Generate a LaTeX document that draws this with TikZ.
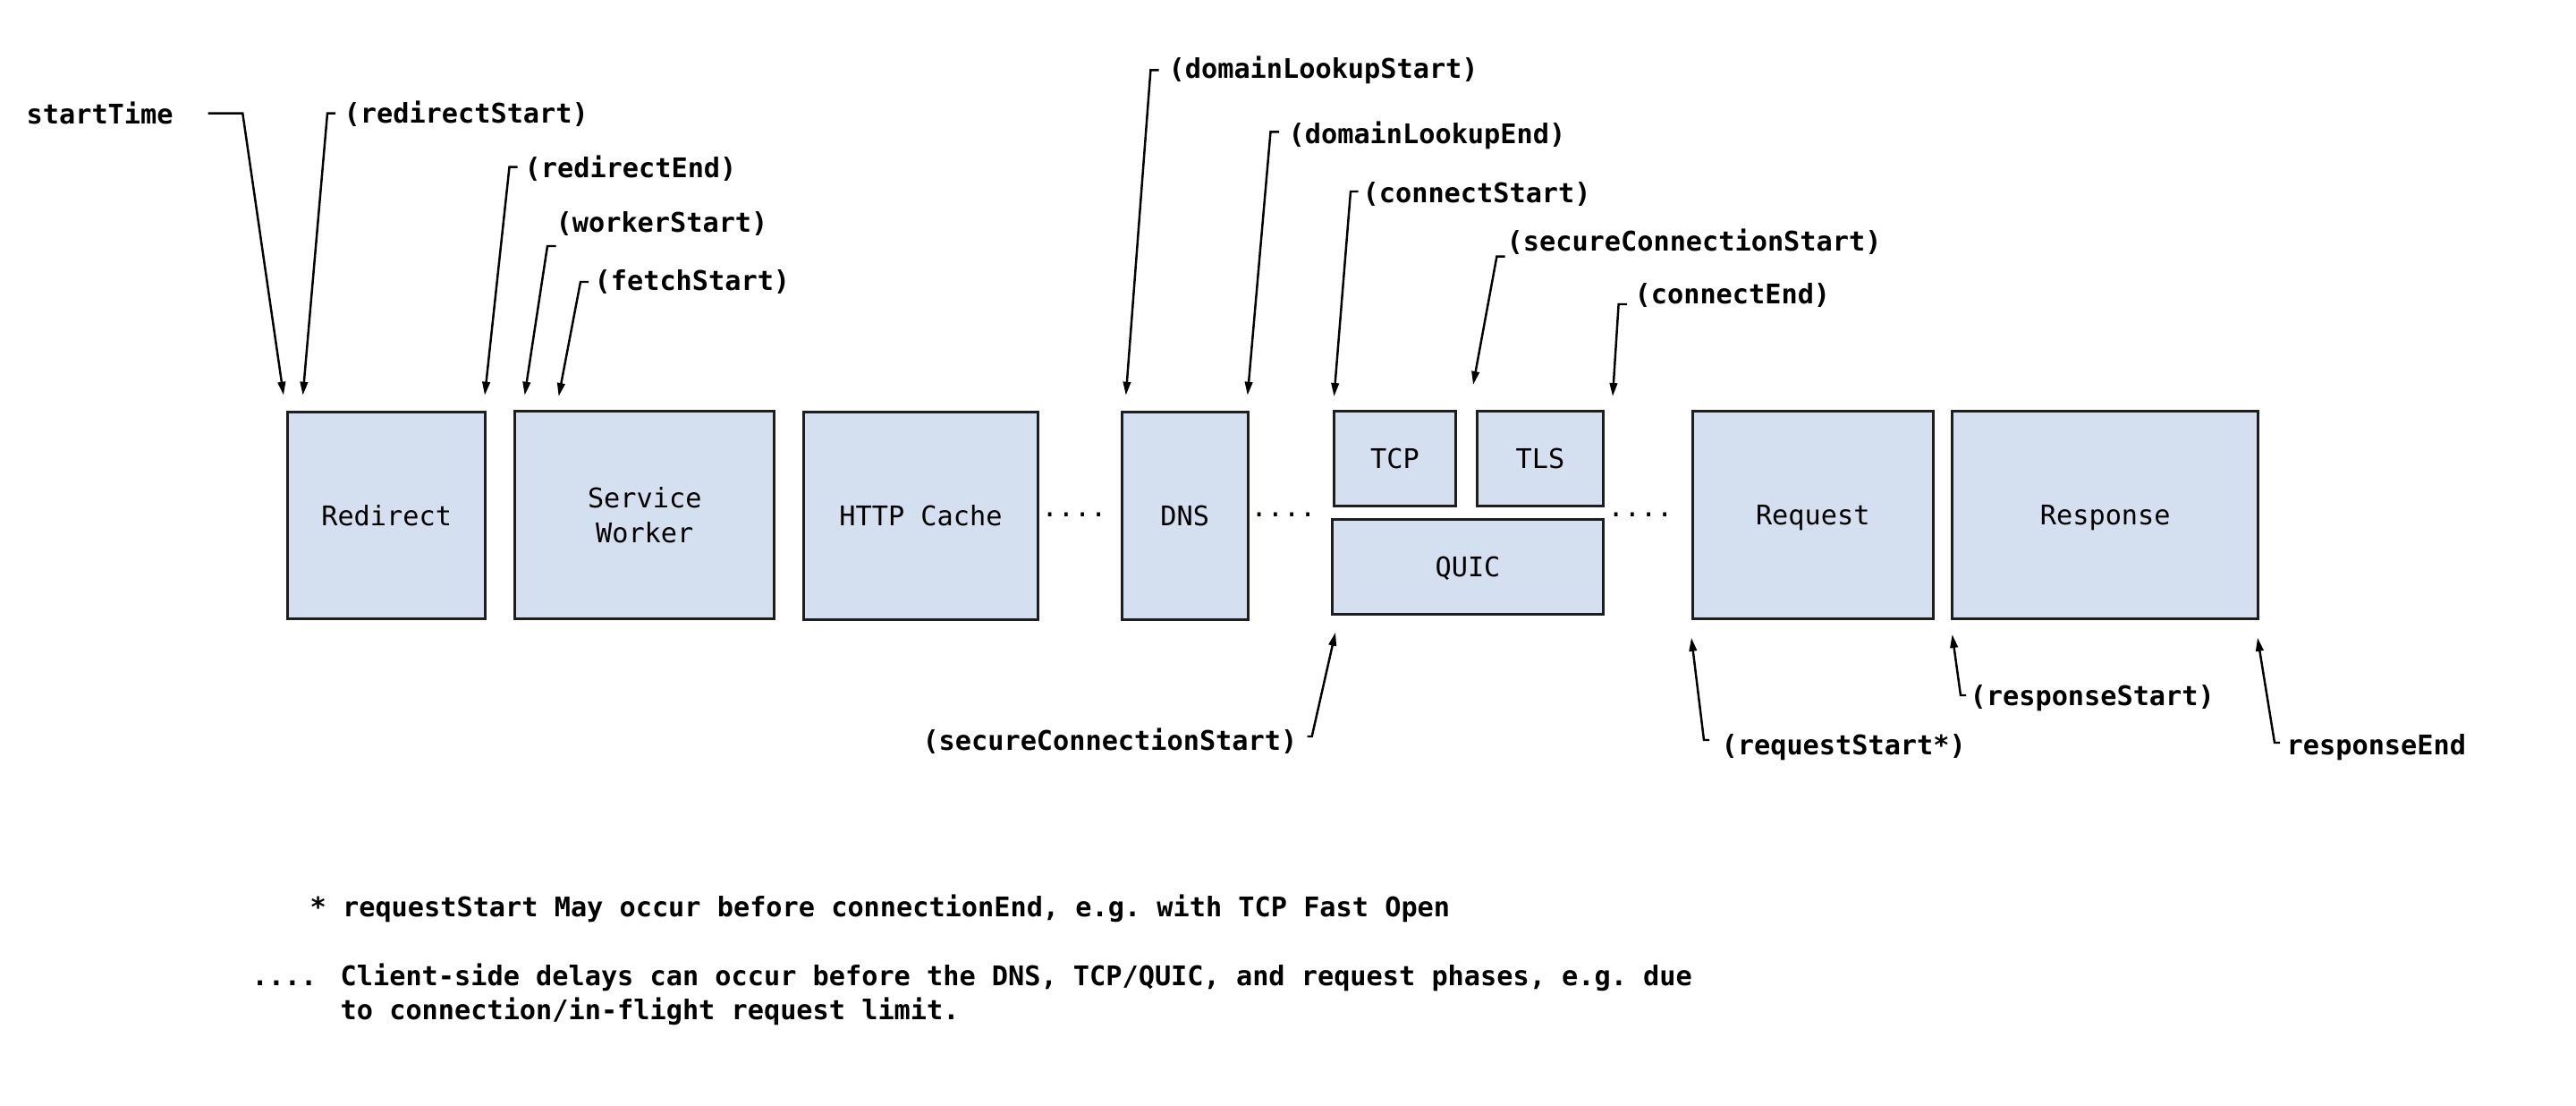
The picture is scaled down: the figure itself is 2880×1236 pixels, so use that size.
\documentclass[tikz,border=0pt]{standalone}
\usepackage{fontspec}
\setmonofont{DejaVu Sans Mono}
\usetikzlibrary{arrows.meta}
\definecolor{boxblue}{RGB}{212,224,240}
\definecolor{boxline}{RGB}{30,30,30}
\newcommand{\tfont}{\fontsize{8.6pt}{11pt}\selectfont\ttfamily}
\tikzset{
  box/.style={draw=boxline, line width=0.85pt, fill=boxblue, inner sep=0pt, align=center, font=\tfont},
  onebox/.style={box, text height=6.5pt, text depth=0pt},
  lab/.style={font=\tfont\bfseries, inner sep=0pt, anchor=west},
  labr/.style={font=\tfont\bfseries, inner sep=0pt, anchor=east},
  dots/.style={font=\tfont, inner sep=0pt, anchor=base},
  arr/.style={-{Triangle[length=0.15cm,width=0.085cm]}, line width=0.7pt, line join=miter},
}
\begin{document}
\begin{tikzpicture}[x=0.01cm, y=-0.01cm]
\useasboundingbox (0,0) rectangle (2880,1236);

% boxes
\node[onebox, minimum width=2.213cm, minimum height=2.307cm] (redirect) at (432.15,576.35) {Redirect};
\node[box, minimum width=2.895cm, minimum height=2.31cm] (sw) at (720.75,575.5) {Service\\Worker};
\node[onebox, minimum width=2.61cm, minimum height=2.31cm] (cache) at (1029.5,576.5) {HTTP Cache};
\node[onebox, minimum width=1.405cm, minimum height=2.31cm] (dns) at (1324.75,576.5) {DNS};
\node[onebox, minimum width=1.35cm, minimum height=1.05cm] (tcp) at (1559.5,512.5) {TCP};
\node[onebox, minimum width=1.40cm, minimum height=1.05cm] (tls) at (1722,512.5) {TLS};
\node[onebox, minimum width=3.02cm, minimum height=1.05cm] (quic) at (1641,633.5) {QUIC};
\node[onebox, minimum width=2.685cm, minimum height=2.31cm] (request) at (2026.75,575.5) {Request};
\node[onebox, minimum width=3.415cm, minimum height=2.31cm] (response) at (2353.75,575.5) {Response};

% delay dots
\node[dots] (d1) at (1201,577) {....};
\node[dots] (d2) at (1435,577) {....};
\node[dots] (d3) at (1834,577) {....};

% top labels
\node[lab] (lStart) at (29,126.7) {startTime};
\node[lab] (lRS) at (384,126.7) {(redirectStart)};
\node[lab] (lRE) at (586,188) {(redirectEnd)};
\node[lab] (lWS) at (621,250) {(workerStart)};
\node[lab] (lFS) at (664,315) {(fetchStart)};
\node[lab] (lDLS) at (1306,78.3) {(domainLookupStart)};
\node[lab] (lDLE) at (1440,151.7) {(domainLookupEnd)};
\node[lab] (lCS) at (1523,216.7) {(connectStart)};
\node[lab] (lSCS) at (1684,270) {(secureConnectionStart)};
\node[lab] (lCE) at (1827,330) {(connectEnd)};

% bottom labels
\node[labr] (lSCSb) at (1451,828) {(secureConnectionStart)};
\node[lab] (lReqS) at (1924,835) {(requestStart*)};
\node[lab] (lRespS) at (2202,780) {(responseStart)};
\node[lab] (lRespE) at (2556,835) {responseEnd};

% connector coordinates
\coordinate (a1) at (232.7,126.7); \coordinate (b1) at (271.3,126.7); \coordinate (t1) at (317,441.7);
\coordinate (a2) at (375,126.7);   \coordinate (b2) at (366,126.7);   \coordinate (t2) at (338.6,441.7);
\coordinate (a3) at (578.7,186.7); \coordinate (b3) at (569.5,186.7); \coordinate (t3) at (542,441.7);
\coordinate (a4) at (621.5,275);   \coordinate (b4) at (612,275);     \coordinate (t4) at (586.6,441.7);
\coordinate (a5) at (658,315);     \coordinate (b5) at (649,315);     \coordinate (t5) at (624.6,443);
\coordinate (a6) at (1295.6,78.3); \coordinate (b6) at (1286.4,78.3); \coordinate (t6) at (1258.8,441.7);
\coordinate (a7) at (1430,147.3);  \coordinate (b7) at (1420.5,147.3);\coordinate (t7) at (1394.8,441.7);
\coordinate (a8) at (1518.5,214);  \coordinate (b8) at (1510,214);    \coordinate (t8) at (1491.5,443);
\coordinate (a9) at (1682.6,286.7);\coordinate (b9) at (1673.4,286.7);\coordinate (t9) at (1647,430);
\coordinate (a10) at (1819,340);   \coordinate (b10) at (1809.6,340); \coordinate (t10) at (1803,443);
\coordinate (a11) at (1461.7,823); \coordinate (b11) at (1466.7,823); \coordinate (t11) at (1493,706.7);
\coordinate (a12) at (1911,827);   \coordinate (b12) at (1905,827);   \coordinate (t12) at (1891,712.7);
\coordinate (a13) at (2198,777);   \coordinate (b13) at (2192,777);   \coordinate (t13) at (2182.6,709);
\coordinate (a14) at (2549,830);   \coordinate (b14) at (2543,830);   \coordinate (t14) at (2524,712.7);

\foreach \i in {1,...,14} {
  \draw[arr] (a\i) -- (b\i) -- (t\i);
}

% footnotes
\node[font=\tfont\bfseries, inner sep=0pt, anchor=base west] (fn1) at (346,1024) {* requestStart May occur before connectionEnd, e.g. with TCP Fast Open};
\node[font=\tfont\bfseries, inner sep=0pt, anchor=base] (fn2d) at (318,1101) {....};
\node[font=\tfont\bfseries, inner sep=0pt, anchor=base west] (fn2) at (380,1101) {Client-side delays can occur before the DNS, TCP/QUIC, and request phases, e.g. due};
\node[font=\tfont\bfseries, inner sep=0pt, anchor=base west] (fn3) at (380,1139.5) {to connection/in-flight request limit.};
\end{tikzpicture}
\end{document}
